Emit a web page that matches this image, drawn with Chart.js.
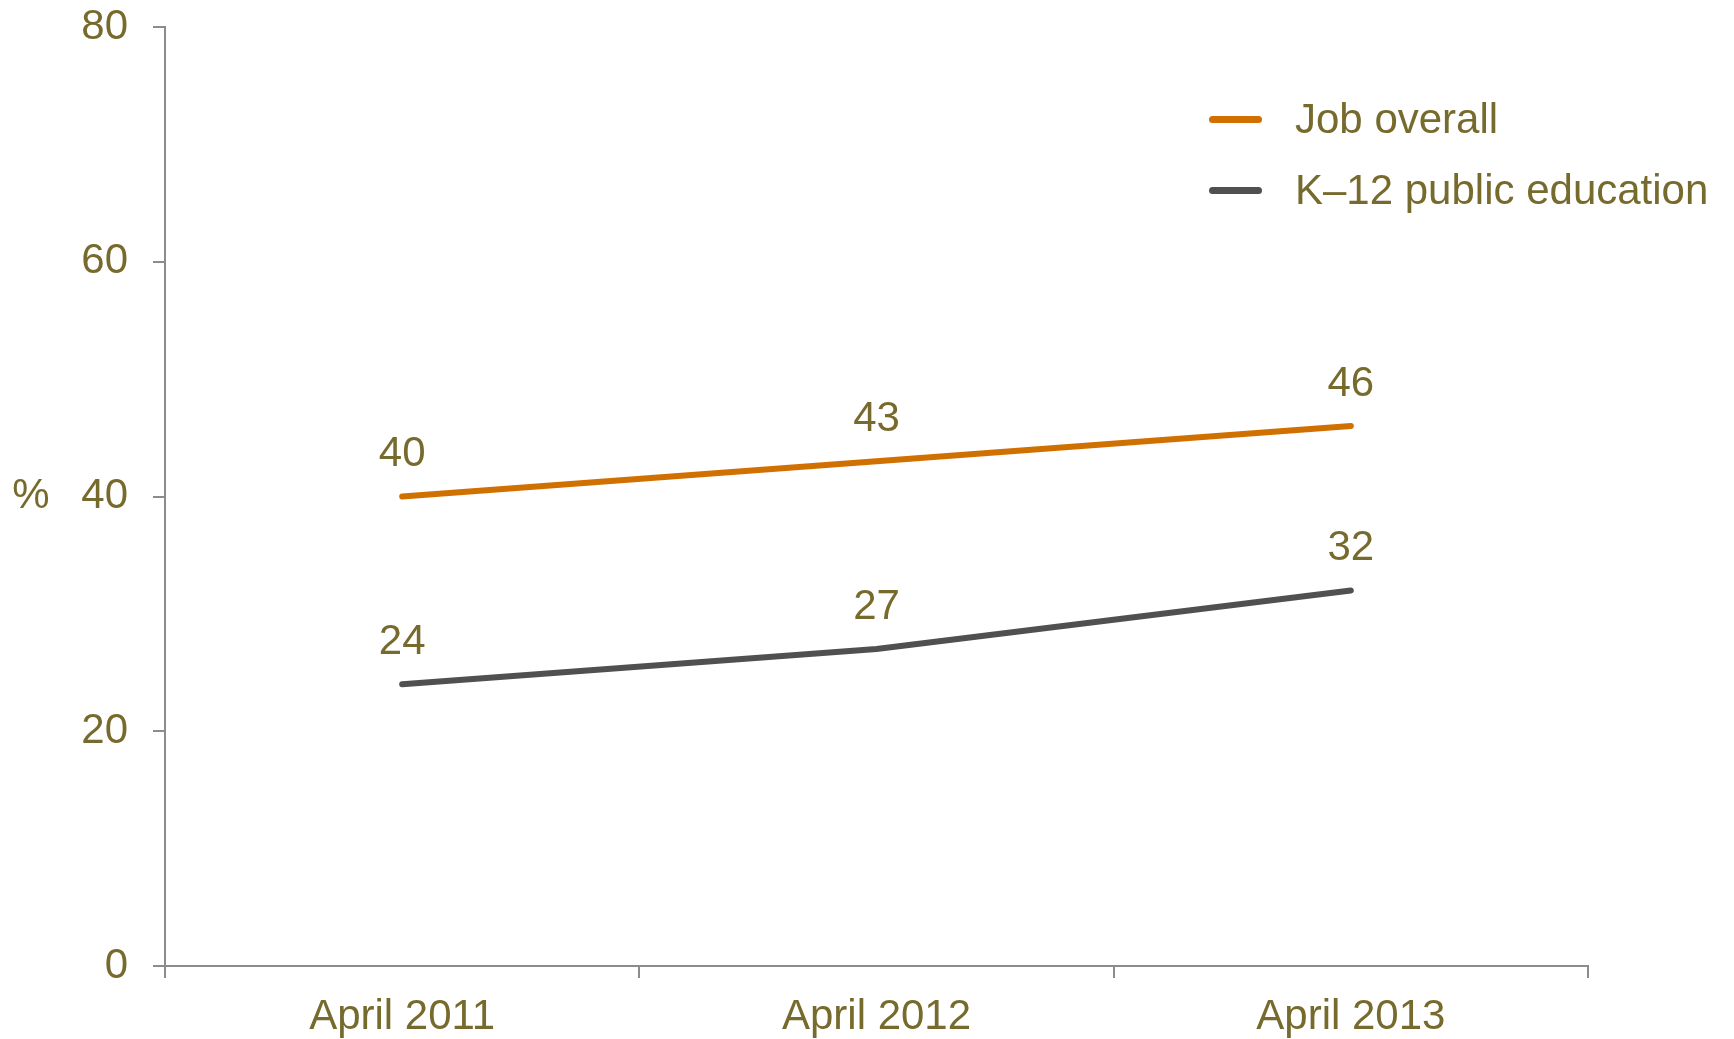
<!DOCTYPE html>
<html>
<head>
<meta charset="utf-8">
<script src="https://cdn.jsdelivr.net/npm/chart.js@4"></script>
<style>
  body { margin: 0; background: #fff; }
  #wrap { position: relative; width: 1734px; height: 1039px; }
  .leg { position: absolute; left: 1209px; font: 42px "Liberation Sans", Arial, sans-serif; color: #776a2d; }
  .leg span.swatch { position: absolute; left: 0; top: -3.5px; width: 53px; height: 7px; border-radius: 4px; }
  .leg span.txt { position: absolute; left: 86px; top: -24px; white-space: nowrap; line-height: 48px; }
</style>
</head>
<body>
<div id="wrap">
  <canvas id="chart" width="1734" height="1039"></canvas>
  <div class="leg" style="top:119px"><span class="swatch" style="background:#d07000"></span><span class="txt">Job overall</span></div>
  <div class="leg" style="top:190px"><span class="swatch" style="background:#505050"></span><span class="txt">K–12 public education</span></div>
</div>
<script>
/* global document, Chart */

let categories = ['April 2011', 'April 2012', 'April 2013'];
let jobOverall = [40, 43, 46];
let k12Education = [24, 27, 32];
let yTicks = [0, 20, 40, 60, 80];

let textColor = '#776a2d';
let axisColor = '#8c8c8c';
let fontFamily = '"Liberation Sans", Arial, sans-serif';
let fontSize = 42;

// draws the values above each point
let pointLabels = {
    id: 'pointLabels',
    afterDatasetsDraw(chart) {
        let ctx = chart.ctx;
        ctx.save();
        ctx.font = fontSize + 'px ' + fontFamily;
        ctx.fillStyle = textColor;
        ctx.textAlign = 'center';
        ctx.textBaseline = 'middle';
        chart.data.datasets.forEach((ds, i) => {
            chart.getDatasetMeta(i).data.forEach((pt, j) => {
                ctx.fillText(ds.data[j], pt.x, pt.y - 42);
            });
        });
        ctx.restore();
    }
};

// the "%" sits level with the middle of the y axis
let percentSign = {
    id: 'percentSign',
    afterDraw(chart) {
        let ctx = chart.ctx;
        let area = chart.chartArea;
        ctx.save();
        ctx.font = fontSize + 'px ' + fontFamily;
        ctx.fillStyle = textColor;
        ctx.textAlign = 'center';
        ctx.textBaseline = 'middle';
        ctx.fillText('%', 31, (area.top + area.bottom) / 2);
        ctx.restore();
    }
};

new Chart(document.getElementById('chart'), {
    type: 'line',
    data: {
        labels: categories,
        datasets: [
            {
                label: 'Job overall',
                data: jobOverall,
                borderColor: '#d07000',
                borderWidth: 6,
                borderCapStyle: 'round',
                pointRadius: 0,
                tension: 0
            },
            {
                label: 'K–12 public education',
                data: k12Education,
                borderColor: '#505050',
                borderWidth: 6,
                borderCapStyle: 'round',
                pointRadius: 0,
                tension: 0
            }
        ]
    },
    options: {
        responsive: false,
        animation: false,
        layout: { padding: { left: 0, right: 146, top: 27, bottom: 0 } },
        plugins: { legend: { display: false }, tooltip: { enabled: false } },
        scales: {
            x: {
                offset: true,
                grid: { offset: true, drawOnChartArea: false, drawTicks: true, tickLength: 12, color: axisColor, lineWidth: 2 },
                border: { color: axisColor, width: 2 },
                ticks: { color: textColor, font: { size: fontSize, family: fontFamily }, padding: 14, maxRotation: 0 },
                afterFit(scale) { scale.height = 73; }
            },
            y: {
                min: 0,
                max: 80,
                afterBuildTicks(scale) { scale.ticks = yTicks.map(v => ({ value: v })); },
                grid: { drawOnChartArea: false, drawTicks: true, tickLength: 12, color: axisColor, lineWidth: 2 },
                border: { color: axisColor, width: 2 },
                ticks: { color: textColor, font: { size: fontSize, family: fontFamily }, padding: 25 },
                afterFit(scale) {
                    scale.width = 165;
                    scale.paddingTop = 0;
                    scale.paddingBottom = 0;
                }
            }
        }
    },
    plugins: [pointLabels, percentSign]
});
</script>
</body>
</html>
